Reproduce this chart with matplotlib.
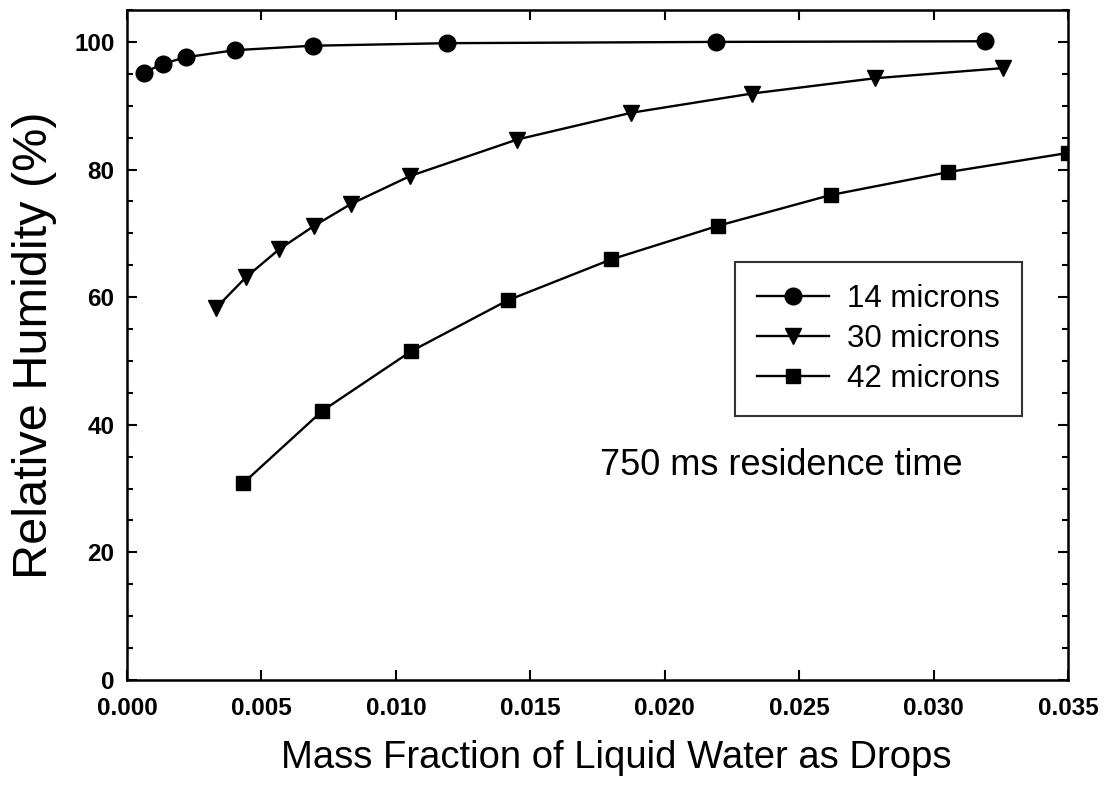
import matplotlib
matplotlib.use("Agg")
import matplotlib.pyplot as plt
from matplotlib.ticker import MultipleLocator, FormatStrFormatter

plt.rcParams['font.family'] = ['Liberation Sans', 'DejaVu Sans']

# Data
x_14 = [0.00064, 0.00135, 0.0022, 0.0040, 0.0069, 0.0119, 0.0219, 0.0319]
y_14 = [95.2, 96.6, 97.6, 98.7, 99.4, 99.8, 100.0, 100.1]

x_30 = [0.00331, 0.00442, 0.00566, 0.00697, 0.00833, 0.01054, 0.01451,
        0.01876, 0.02323, 0.02781, 0.0326]
y_30 = [58.3, 63.1, 67.5, 71.2, 74.6, 79.0, 84.7, 88.9, 91.9, 94.3, 95.9]

x_42 = [0.00431, 0.00727, 0.01056, 0.01416, 0.0180, 0.0220, 0.02617,
        0.03055, 0.0350]
y_42 = [30.8, 42.2, 51.5, 59.5, 65.9, 71.2, 76.0, 79.6, 82.6]

labels = ["14 microns", "30 microns", "42 microns"]
x_ticks = [0.000, 0.005, 0.010, 0.015, 0.020, 0.025, 0.030, 0.035]
y_ticks = [0, 20, 40, 60, 80, 100]

fig = plt.figure(figsize=(11.07, 7.88), dpi=100)
ax = fig.add_axes([127/1107, 1 - 680/788, (1068-127)/1107, (680-10)/788])

ax.plot(x_14, y_14, '-o', color='black', lw=1.7, ms=12, label=labels[0])
ax.plot(x_30, y_30, '-v', color='black', lw=1.7, ms=11.5, label=labels[1])
ax.plot(x_42, y_42, '-s', color='black', lw=1.7, ms=10.5, label=labels[2])

ax.set_xlim(0, 0.035)
ax.set_ylim(0, 105)
ax.set_xticks(x_ticks)
ax.set_yticks(y_ticks)
ax.yaxis.set_minor_locator(MultipleLocator(5))
ax.xaxis.set_major_formatter(FormatStrFormatter('%.3f'))

ax.tick_params(which='both', direction='in', top=True, right=True, width=1.5)
ax.tick_params(which='major', length=7, labelsize=17.5)
ax.tick_params(which='minor', length=4.5)
ax.tick_params(axis='x', which='major', pad=12)
ax.tick_params(axis='y', which='major', pad=9)
for lab in ax.get_xticklabels() + ax.get_yticklabels():
    lab.set_fontweight('bold')

for sp in ax.spines.values():
    sp.set_linewidth(1.8)

ax.set_xlabel("Mass Fraction of Liquid Water as Drops", fontsize=27.5)
ax.xaxis.set_label_coords(0.52, -0.09, transform=ax.transAxes)
ax.set_ylabel("Relative Humidity (%)", fontsize=35, labelpad=12)

leg = ax.legend(loc='upper left', bbox_to_anchor=(0.646, 0.624), fontsize=22.5,
                frameon=True, fancybox=False, edgecolor='black',
                handlelength=2.3, handletextpad=0.6, borderpad=0.7,
                labelspacing=0.33, borderaxespad=0)
leg.get_frame().set_linewidth(1.5)

ax.text(0.5027, 0.306, "750 ms residence time", transform=ax.transAxes,
        fontsize=26, va='baseline', ha='left')

fig.savefig("out.png", dpi=100)
